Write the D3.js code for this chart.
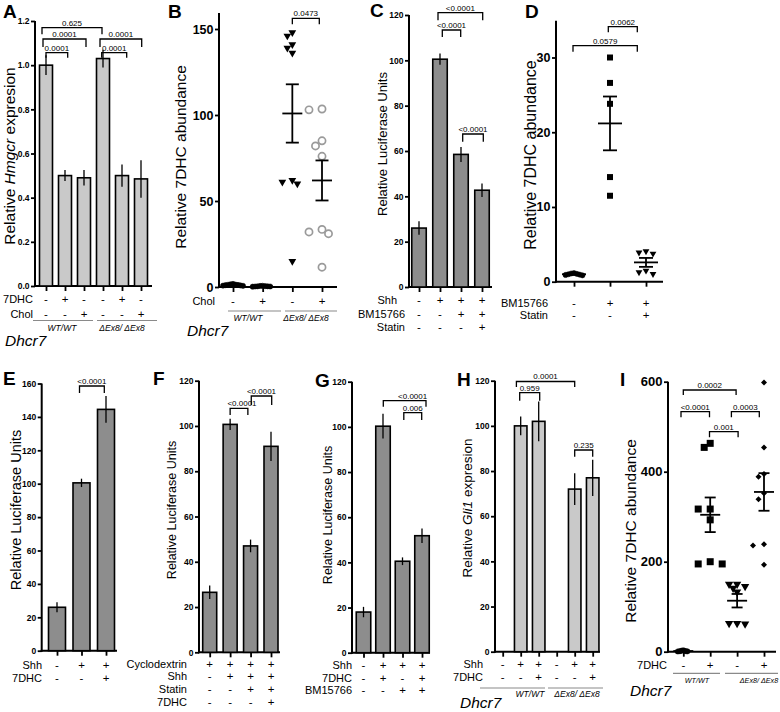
<!DOCTYPE html>
<html><head><meta charset="utf-8">
<script src="https://cdn.jsdelivr.net/npm/d3@7"></script>
<style>
body{margin:0;background:#fff}
svg{display:block}
text{font-family:"Liberation Sans",Arial,sans-serif;fill:#000}
</style>
</head><body>
<svg id="c" width="780" height="712"></svg>
<script>
// ---------------- DATA ----------------
// Panel A
const aRowNames = ["7DHC", "Chol"];
const aSigns = [["-","+","-","-","+","-"],["-","-","+","-","-","+"]];
const aMeans = [1.0, 0.5, 0.49, 1.03, 0.5, 0.485];
const aErrors = [0.045, 0.025, 0.035, 0.04, 0.05, 0.085];
const aTicks = [0, 0.2, 0.4, 0.6, 0.8, 1.0, 1.2];
const aPvals = ["0.625", "0.0001", "0.0001", "0.0001", "0.0001"];
const aPairs = [[0,3],[0,2],[0,1],[3,5],[3,4]];
const genotypes = ["WT/WT", "\u0394Ex8/ \u0394Ex8"];
// Panel B
const bRowNames = ["Chol"];
const bSigns = [["-","+","-","+"]];
const bWtMinus = [1.6, 1.2, 0.9, 1.4, 0.7, 1.1, 1.8, 0.8, 1.3];
const bWtPlus = [0.4, 0.6, 0.3, 0.5, 0.2, 0.7, 0.4, 0.3];
const bMutMinus = [148, 146, 141, 139, 136, 62, 60, 61, 15];
const bMutPlus = [103, 103.5, 85, 82, 76, 32, 31, 33.5, 11.5];
const bTicks = [0, 50, 100, 150];
const bPvals = ["0.0473"];
const bPairs = [[2,3]];
// Panel C
const cRowNames = ["Shh","BM15766","Statin"];
const cSigns = [["-","+","+","+"],["-","-","+","+"],["-","-","-","+"]];
const cMeans = [26, 100.5, 58.5, 42.7];
const cErrors = [3, 2.5, 3.3, 3];
const cTicks = [0, 20, 40, 60, 80, 100, 120];
const cPvals = ["<0.0001","<0.0001","<0.0001"];
const cPairs = [[1,3],[1,2],[2,3]];
// Panel D
const dRowNames = ["BM15766","Statin"];
const dSigns = [["-","+","+"],["-","-","+"]];
const dControl = [1.0, 0.9, 1.1, 0.95, 1.05, 0.85, 1.15];
const dBM = [30, 26.6, 23.8, 14, 11.5];
const dBMStatin = [3.9, 3.76, 4.07, 1.48, 1.03, 1.26];
const dTicks = [0, 10, 20, 30];
const dPvals = ["0.0062","0.0579"];
const dPairs = [[1,2],[0,2]];
// Panel E
const eRowNames = ["Shh","7DHC"];
const eSigns = [["-","+","+"],["-","-","+"]];
const eMeans = [26, 100.5, 144.5];
const eErrors = [3, 2.5, 8];
const eTicks = [0, 20, 40, 60, 80, 100, 120, 140, 160];
const ePvals = ["<0.0001"];
const ePairs = [[1,2]];
// Panel F
const fRowNames = ["Cyclodextrin","Shh","Statin","7DHC"];
const fSigns = [["+","+","+","+"],["-","+","+","+"],["-","-","+","+"],["-","-","-","+"]];
const fMeans = [26.5, 100.7, 47, 91];
const fErrors = [3, 2.5, 2.8, 6.5];
const fTicks = [0, 20, 40, 60, 80, 100, 120];
const fPvals = ["<0.0001","<0.0001"];
const fPairs = [[1,2],[2,3]];
// Panel G
const gRowNames = ["Shh","7DHC","BM15766"];
const gSigns = [["-","+","+","+"],["-","+","-","+"],["-","-","+","+"]];
const gMeans = [18, 100.3, 40.5, 51.8];
const gErrors = [2.3, 5.5, 1.7, 3.2];
const gTicks = [0, 20, 40, 60, 80, 100, 120];
const gPvals = ["<0.0001","0.006"];
const gPairs = [[1,3],[2,3]];
// Panel H
const hRowNames = ["Shh","7DHC"];
const hSigns = [["-","+","+","-","+","+"],["-","-","+","-","-","+"]];
const hMeans = [0, 100, 102, 0, 72, 77];
const hErrors = [0, 4.2, 8.8, 0, 7, 8];
const hTicks = [0, 20, 40, 60, 80, 100, 120];
const hPvals = ["0.0001","0.959","0.235"];
const hPairs = [[1,4],[1,2],[4,5]];
// Panel I
const iRowNames = ["7DHC"];
const iSigns = [["-","+","-","+"]];
const iWtMinus = [2, 1, 3, 0.5, 1.5, 2.5, 1, 0.8];
const iWtPlus = [463, 454, 317, 317, 293, 195, 195, 200];
const iMutMinus = [150, 150, 145, 141, 133, 63, 61.5, 63];
const iMutPlus = [598, 454, 395, 389, 339, 352, 239, 236, 193];
const iTicks = [0, 200, 400, 600];
const iPvals = ["0.0002","<0.0001","0.0003","0.001"];
const iPairs = [[0,2],[0,1],[2,3],[1,2]];

// ---------------- DRAWING ----------------
const svg = d3.select("#c");
const FONT = "Liberation Sans, Arial, sans-serif";

function frame(cfg) {
  const g = svg.append("g");
  g.append("text").attr("x", cfg.labelPos[0]).attr("y", cfg.labelPos[1])
    .attr("font-size", 19).attr("font-weight", "bold").text(cfg.label);
  const t = g.append("text")
    .attr("transform", `translate(${cfg.titlePos[0]},${cfg.titlePos[1]}) rotate(-90)`)
    .attr("text-anchor", "middle").attr("dominant-baseline", "central")
    .attr("font-size", cfg.titleSize);
  cfg.title.forEach(([s, it]) => t.append("tspan").attr("font-style", it ? "italic" : "normal").text(s));

  const y = d3.scaleLinear().domain([0, cfg.yMax]).range([cfg.yBottom, cfg.yTop]);
  const x = d3.scalePoint().domain(d3.range(cfg.n)).range(cfg.centers);

  const ya = d3.axisLeft(y).tickValues(cfg.ticks).tickFormat(cfg.fmt).tickSize(4).tickPadding(1.5);
  const yg = g.append("g").attr("transform", `translate(${cfg.axisX},0)`).call(ya);
  yg.select(".domain").remove();
  yg.selectAll(".tick line").attr("stroke", "#000").attr("stroke-width", 1.8);
  yg.selectAll(".tick text").attr("font-size", cfg.tickSize).attr("font-weight", "bold")
    .attr("font-family", FONT).attr("fill", "#000");
  g.append("line").attr("x1", cfg.axisX).attr("x2", cfg.axisX)
    .attr("y1", cfg.axisTop !== undefined ? cfg.axisTop : cfg.yTop).attr("y2", cfg.yBottom + 1)
    .attr("stroke", "#000").attr("stroke-width", 2);

  const xa = d3.axisBottom(x).tickSize(5).tickFormat("");
  const xg = g.append("g").attr("transform", `translate(0,${cfg.yBottom})`).call(xa);
  xg.select(".domain").remove();
  xg.selectAll(".tick line").attr("stroke", "#000").attr("stroke-width", 1.8);
  g.append("line").attr("x1", cfg.axisX - 1).attr("x2", cfg.axisEnd)
    .attr("y1", cfg.yBottom).attr("y2", cfg.yBottom).attr("stroke", "#000").attr("stroke-width", 2);

  cfg.rowNames.forEach((nm, r) => {
    g.append("text").attr("x", cfg.rowX[r]).attr("y", cfg.rowY[r]).attr("text-anchor", "end")
      .attr("dominant-baseline", "central").attr("font-size", 11).attr("fill", "#222").text(nm);
    cfg.signs[r].forEach((s, i) => {
      g.append("text").attr("x", x(i)).attr("y", cfg.rowY[r]).attr("text-anchor", "middle")
        .attr("dominant-baseline", "central").attr("font-size", 11.5).attr("fill", "#222").text(s);
    });
  });

  if (cfg.geno) {
    cfg.geno.segs.forEach((sg, k) => {
      g.append("line").attr("x1", sg[0]).attr("x2", sg[1]).attr("y1", cfg.geno.y).attr("y2", cfg.geno.y)
        .attr("stroke", "#8a8a8a").attr("stroke-width", 1.2);
      g.append("text").attr("x", cfg.geno.tx[k]).attr("y", cfg.geno.ty).attr("text-anchor", "middle")
        .attr("font-size", cfg.geno.fs || 8.5).attr("font-style", "italic").attr("fill", "#222").text(genotypes[k]);
    });
  }
  if (cfg.dhcr) {
    g.append("text").attr("x", cfg.dhcr[0]).attr("y", cfg.dhcr[1]).attr("font-size", 15.5)
      .attr("font-style", "italic").text("Dhcr7");
  }

  cfg.pairs.forEach((p, i) => {
    const s = cfg.brk[i];
    const x1 = x(p[0]) + (s.dl || 0), x2 = x(p[1]) + (s.dr || 0);
    g.append("path").attr("d", `M${x1},${s.y + s.drop}V${s.y}H${x2}V${s.y + s.drop}`)
      .attr("fill", "none").attr("stroke", "#000").attr("stroke-width", 1.3);
    g.append("text").attr("x", (x1 + x2) / 2 + (s.tx || 0)).attr("y", s.y - 2.2)
      .attr("text-anchor", "middle").attr("font-size", 8).attr("fill", "#222").text(cfg.pvals[i]);
  });
  return { g, x, y };
}

function bars(f, means, errs, barW, fill) {
  means.forEach((m, i) => {
    if (m <= 0) return;
    f.g.append("rect").attr("x", f.x(i) - barW / 2).attr("y", f.y(m))
      .attr("width", barW).attr("height", f.y(0) - f.y(m))
      .attr("fill", fill).attr("stroke", "#000").attr("stroke-width", 1.6);
  });
  means.forEach((m, i) => {
    if (m <= 0) return;
    f.g.append("line").attr("x1", f.x(i)).attr("x2", f.x(i))
      .attr("y1", f.y(m - errs[i])).attr("y2", f.y(m + errs[i]))
      .attr("stroke", "#000").attr("stroke-width", 1.3);
  });
}

function swarm(vals, y, size, step) {
  const pts = vals.map(v => ({ v, py: y(v) })).sort((a, b) => a.py - b.py);
  const placed = [];
  pts.forEach(p => {
    for (let k = 0; k < 80; k++) {
      const off = k === 0 ? 0 : (k % 2 ? -1 : 1) * Math.ceil(k / 2) * step;
      if (placed.every(q => Math.hypot(q.dx - off, q.py - p.py) >= size)) { p.dx = off; break; }
    }
    placed.push(p);
  });
  return pts;
}

function scatterGroup(f, i, vals, mk) {
  const cx = f.x(i);
  const pts = swarm(vals, f.y, mk.size, mk.step);
  const g = f.g.append("g");
  pts.forEach(p => {
    const px = cx + p.dx, py = p.py;
    if (mk.type === "circle") {
      g.append("circle").attr("cx", px).attr("cy", py).attr("r", mk.r)
        .attr("fill", mk.open ? "none" : "#000").attr("stroke", mk.open ? "#9a9a9a" : "#000")
        .attr("stroke-width", mk.open ? 1.7 : 0.5);
    } else {
      const sym = { tri: d3.symbolTriangle, square: d3.symbolSquare, diamond: d3.symbolSquare }[mk.type];
      const rot = mk.type === "tri" ? 180 : (mk.type === "diamond" ? 45 : 0);
      g.append("path").attr("d", d3.symbol().type(sym).size(mk.area)())
        .attr("transform", `translate(${px},${py}) rotate(${rot})`).attr("fill", "#000");
    }
  });
  const m = d3.mean(vals), se = d3.deviation(vals) / Math.sqrt(vals.length);
  const eg = f.g.append("g").attr("stroke", "#000").attr("stroke-width", 1.8);
  eg.append("line").attr("x1", cx - mk.mw).attr("x2", cx + mk.mw).attr("y1", f.y(m)).attr("y2", f.y(m));
  eg.append("line").attr("x1", cx).attr("x2", cx).attr("y1", f.y(m - se)).attr("y2", f.y(m + se));
  [m - se, m + se].forEach(v => eg.append("line").attr("x1", cx - mk.cw).attr("x2", cx + mk.cw)
    .attr("y1", f.y(v)).attr("y2", f.y(v)));
}

// ---- Panel A
const fA = frame({
  label: "A", labelPos: [3, 18], title: [["Relative ", 0], ["Hmgcr", 1], [" expresion", 0]],
  titlePos: [9, 156], titleSize: 15.5, yMax: 1.2, yBottom: 286, yTop: 21, n: 6, centers: [46, 141],
  ticks: aTicks, fmt: d3.format(".1f"), tickSize: 8.5, axisX: 35, axisEnd: 152,
  rowNames: aRowNames, signs: aSigns, rowX: [33, 33], rowY: [299, 314],
  geno: { y: 320.5, segs: [[33, 93], [97, 157]], tx: [62, 122], ty: 331 }, dhcr: [5, 346],
  pairs: aPairs, pvals: aPvals,
  brk: [{ y: 27.7, drop: 6.5, dl: -4, dr: -1 }, { y: 39, drop: 8, dl: -3, dr: 2 }, { y: 52.7, drop: 5, dl: 0, dr: 2.7 },
        { y: 39, drop: 8, dl: -3, dr: 0.7 }, { y: 52.7, drop: 5, dl: -1.3, dr: 4.7 }]
});
bars(fA, aMeans, aErrors, 13, "#c9c9c9");

// ---- Panel B
const fB = frame({
  label: "B", labelPos: [168, 18], title: [["Relative 7DHC abundance", 0]],
  titlePos: [180, 157], titleSize: 15.5, yMax: 150, yBottom: 287, yTop: 29, axisTop: 13, n: 4, centers: [233, 322],
  ticks: bTicks, fmt: d3.format("d"), tickSize: 12.5, axisX: 219, axisEnd: 337,
  rowNames: bRowNames, signs: bSigns, rowX: [215], rowY: [301],
  geno: { y: 311, segs: [[228, 281], [285, 337]], tx: [248, 306], ty: 321 }, dhcr: [187, 336],
  pairs: bPairs, pvals: bPvals, brk: [{ y: 18.3, drop: 6, dl: 0, dr: -2.7 }]
});
scatterGroup(fB, 0, bWtMinus, { type: "circle", r: 2.6, size: 2.2, step: 2.5, mw: 10, cw: 6 });
scatterGroup(fB, 1, bWtPlus, { type: "circle", r: 2.6, size: 2.2, step: 2.5, mw: 10, cw: 6 });
scatterGroup(fB, 2, bMutMinus, { type: "tri", area: 26, size: 6, step: 5, mw: 10, cw: 6.5 });
scatterGroup(fB, 3, bMutPlus, { type: "circle", r: 3.6, open: true, size: 7.5, step: 6.5, mw: 10, cw: 6.5 });

// ---- Panel C
const fC = frame({
  label: "C", labelPos: [370, 17], title: [["Relative Luciferase Units", 0]],
  titlePos: [382, 144], titleSize: 13, yMax: 120, yBottom: 287, yTop: 15, n: 4, centers: [419, 482],
  ticks: cTicks, fmt: d3.format("d"), tickSize: 8.5, axisX: 409, axisEnd: 492,
  rowNames: cRowNames, signs: cSigns, rowX: [397, 405, 405], rowY: [300, 314, 327],
  pairs: cPairs, pvals: cPvals,
  brk: [{ y: 12.7, drop: 7.5, dl: -2, dr: 0.7 }, { y: 30, drop: 7, dl: 2.3, dr: -0.3 }, { y: 134, drop: 7.7, dl: 1.7, dr: 1.3 }]
});
bars(fC, cMeans, cErrors, 14.5, "#8d8d8d");

// ---- Panel D
const fD = frame({
  label: "D", labelPos: [525, 18], title: [["Relative 7DHC abundance", 0]],
  titlePos: [530, 155], titleSize: 16, yMax: 30, yBottom: 281.7, yTop: 57.5, axisTop: 20.7, n: 3, centers: [574, 646],
  ticks: dTicks, fmt: d3.format("d"), tickSize: 12.5, axisX: 556, axisEnd: 663,
  rowNames: dRowNames, signs: dSigns, rowX: [548, 548], rowY: [302.5, 315],
  pairs: dPairs, pvals: dPvals,
  brk: [{ y: 26.7, drop: 5.6, dl: -1.7, dr: -8.7 }, { y: 45.7, drop: 6, dl: -1, dr: -8.7 }]
});
scatterGroup(fD, 0, dControl, { type: "circle", r: 2.6, size: 2.4, step: 2.8, mw: 12, cw: 7 });
scatterGroup(fD, 1, dBM, { type: "square", area: 36, size: 7, step: 6, mw: 12, cw: 7 });
scatterGroup(fD, 2, dBMStatin, { type: "tri", area: 20, size: 6, step: 7, mw: 12, cw: 7 });

// ---- Panel E
const fE = frame({
  label: "E", labelPos: [3, 385], title: [["Relative Luciferase Units", 0]],
  titlePos: [16, 510], titleSize: 14.5, yMax: 160, yBottom: 650.7, yTop: 383.5, n: 3, centers: [57, 106],
  ticks: eTicks, fmt: d3.format("d"), tickSize: 8.5, axisX: 41.7, axisEnd: 117,
  rowNames: eRowNames, signs: eSigns, rowX: [42, 42], rowY: [665, 677.5],
  pairs: ePairs, pvals: ePvals, brk: [{ y: 386, drop: 7, dl: -2, dr: -1.7 }]
});
bars(fE, eMeans, eErrors, 17, "#8d8d8d");

// ---- Panel F
const fF = frame({
  label: "F", labelPos: [153, 385], title: [["Relative Luciferase Units", 0]],
  titlePos: [172, 510], titleSize: 12.5, yMax: 120, yBottom: 652.3, yTop: 380.7, n: 4, centers: [209.7, 271],
  ticks: fTicks, fmt: d3.format("d"), tickSize: 8.5, axisX: 199, axisEnd: 280,
  rowNames: fRowNames, signs: fSigns, rowX: [187, 187, 187, 187], rowY: [663.5, 676, 689, 702],
  pairs: fPairs, pvals: fPvals,
  brk: [{ y: 408.3, drop: 6.7, dl: 0, dr: -2.7, tx: 3 }, { y: 396, drop: 9, dl: 0.7, dr: 0.7 }]
});
bars(fF, fMeans, fErrors, 14, "#8d8d8d");

// ---- Panel G
const fG = frame({
  label: "G", labelPos: [315, 387], title: [["Relative Luciferase Units", 0]],
  titlePos: [328, 515], titleSize: 12.5, yMax: 120, yBottom: 652.7, yTop: 381.7, n: 4, centers: [363.5, 422],
  ticks: gTicks, fmt: d3.format("d"), tickSize: 8.5, axisX: 352, axisEnd: 430,
  rowNames: gRowNames, signs: gSigns, rowX: [352, 352, 352], rowY: [665, 677.5, 690],
  pairs: gPairs, pvals: gPvals,
  brk: [{ y: 400.7, drop: 6, dl: 0.3, dr: 4, tx: 8 }, { y: 412.7, drop: 7.3, dl: 1.3, dr: -0.3 }]
});
bars(fG, gMeans, gErrors, 14.5, "#8d8d8d");

// ---- Panel H
const fH = frame({
  label: "H", labelPos: [457, 386], title: [["Relative ", 0], ["Gli1", 1], [" expresion", 0]],
  titlePos: [467, 508], titleSize: 13.5, yMax: 120, yBottom: 651.7, yTop: 380.7, n: 6, centers: [502.7, 592.7],
  ticks: hTicks, fmt: d3.format("d"), tickSize: 8.5, axisX: 495, axisEnd: 600,
  rowNames: hRowNames, signs: hSigns, rowX: [483, 483], rowY: [664, 676.5],
  geno: { y: 688, segs: [[480, 545], [548, 603]], tx: [530, 577], ty: 697 }, dhcr: [460, 708],
  pairs: hPairs, pvals: hPvals,
  brk: [{ y: 381.5, drop: 5.5, dl: -4.3, dr: 0 }, { y: 392.7, drop: 8, dl: -1, dr: 1 }, { y: 450, drop: 6.7, dl: 0, dr: 0 }]
});
bars(fH, hMeans, hErrors, 12.5, "#c9c9c9");

// ---- Panel I
const fI = frame({
  label: "I", labelPos: [620, 386], title: [["Relative 7DHC abundance", 0]],
  titlePos: [630, 531], titleSize: 15.5, yMax: 600, yBottom: 651.7, yTop: 381.7, n: 4, centers: [683.3, 764],
  ticks: iTicks, fmt: d3.format("d"), tickSize: 13, axisX: 668, axisEnd: 776,
  rowNames: iRowNames, signs: iSigns, rowX: [667], rowY: [665],
  geno: { y: 673.3, segs: [[673, 720], [725, 778]], tx: [697, 759], ty: 683, fs: 7.2 }, dhcr: [630, 696],
  pairs: iPairs, pvals: iPvals,
  brk: [{ y: 390, drop: 5, dl: 0, dr: -1 }, { y: 411.7, drop: 5.6, dl: -2.3, dr: -0.7 },
        { y: 411.7, drop: 5.6, dl: -5.7, dr: -4.7 }, { y: 431.7, drop: 5.6, dl: -0.7, dr: 1 }]
});
scatterGroup(fI, 0, iWtMinus, { type: "circle", r: 2.6, size: 1.3, step: 1.4, mw: 10, cw: 5.5 });
scatterGroup(fI, 1, iWtPlus, { type: "square", area: 49, size: 6.5, step: 6, mw: 10, cw: 5.5 });
scatterGroup(fI, 2, iMutMinus, { type: "tri", area: 30, size: 5, step: 4, mw: 10, cw: 5.5 });
scatterGroup(fI, 3, iMutPlus, { type: "diamond", area: 18, size: 6, step: 5.5, mw: 10, cw: 5.5 });
</script>
</body></html>
